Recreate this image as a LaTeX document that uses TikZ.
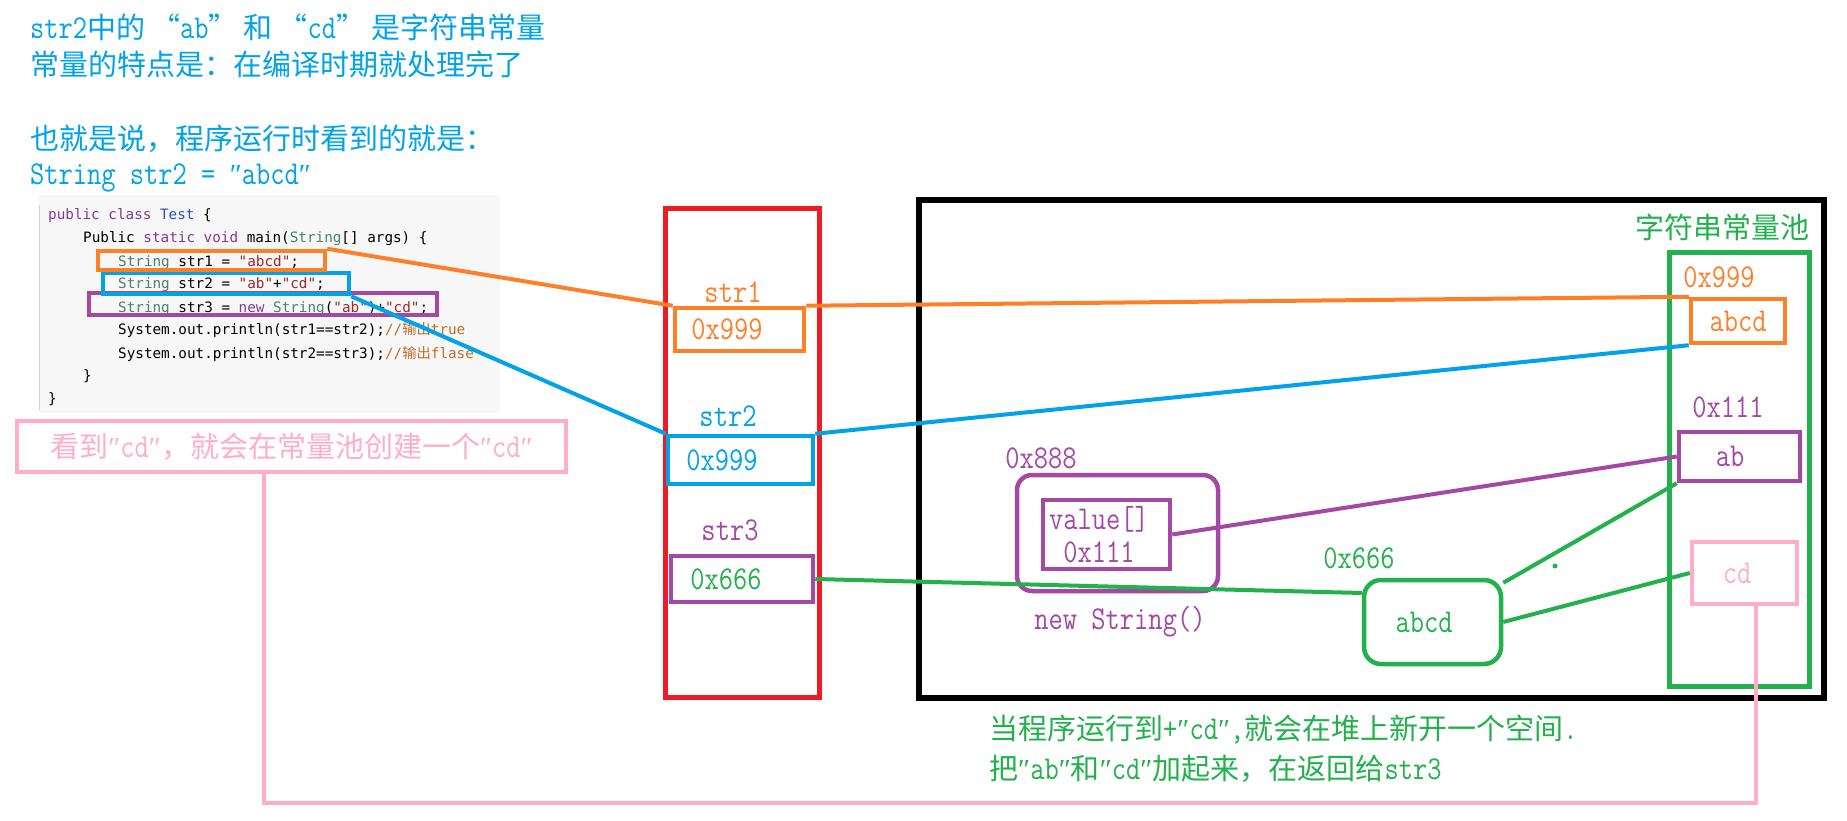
\documentclass[tikz,border=0pt]{standalone}
\usepackage{fontspec}
\setmainfont{Latin Modern Mono}[Scale=1.15, FakeStretch=0.83]
\newfontfamily\cjk{Noto Sans CJK SC}
\newfontfamily\primefont{Liberation Serif}
\newfontfamily\codefont{DejaVu Sans Mono}
\usepackage{xcolor}
\definecolor{skyblue}{RGB}{0,162,232}
\definecolor{tangerine}{RGB}{255,127,39}
\definecolor{plum}{RGB}{163,73,164}
\definecolor{leaf}{RGB}{34,177,76}
\definecolor{brick}{RGB}{237,28,36}
\definecolor{blush}{RGB}{255,174,201}
\definecolor{codebg}{RGB}{247,247,247}
\definecolor{codekw}{RGB}{127,60,150}
\definecolor{codecls}{RGB}{40,80,190}
\definecolor{codetype}{RGB}{70,130,110}
\definecolor{codestr}{RGB}{160,40,40}
\definecolor{codecmt}{RGB}{190,110,40}
\newcommand{\zh}[1]{{\cjk #1}}
\newcommand{\dq}{{\primefont ″}}
\tikzset{%
    cell/.style={draw=#1, line width=4.5pt, inner sep=0pt},
    frame/.style={draw=#1, line width=5pt, inner sep=0pt},
    wire/.style={draw=#1, line width=4pt},
    txt/.style={anchor=base west, inner sep=0pt, text=#1},
    tag/.style={inner sep=0pt, text=#1},
    codeln/.style={anchor=base west, inner sep=0pt, font=\codefont\fontsize{14.3}{16}\selectfont}
}

\begin{document}
\begin{tikzpicture}[x=1pt,y=-1pt,font=\fontsize{29}{33}\selectfont]
    \useasboundingbox[fill=white] (0,0) rectangle (1847,821);
%-----------------------------------------------
    \node[txt=skyblue] (intro1) at (30,39) {str2\zh{中的}\hspace{6pt}\zh{“}ab\zh{”}\hspace{6pt}\zh{和}\hspace{6pt}\zh{“}cd\zh{”}\hspace{6pt}\zh{是字符串常量}};
    \node[txt=skyblue] (intro2) at (30,76) {\zh{常量的特点是：在编译时期就处理完了}};
    \node[txt=skyblue] (intro3) at (30,150) {\zh{也就是说，程序运行时看到的就是：}};
    \node[txt=skyblue] (intro4) at (30,185) {String str2 = \dq abcd\dq};
%-----------------------------------------------
    \fill[codebg] (39,195) rectangle (500,413);
    \draw[black!18, line width=1pt] (39,205) -- (39,410);
    \node[codeln] (code1) at (48,219) {\color{codekw}public class \color{codecls}Test \color{black}\{};
    \node[codeln] (code2) at (83,242) {Public \color{codekw}static void \color{black}main(\color{codetype}String\color{black}[] args) \{};
    \node[codeln] (code3) at (118,266) {\color{codetype}String \color{black}str1 = \color{codestr}"abcd"\color{black};};
    \node[codeln] (code4) at (118,288) {\color{codetype}String \color{black}str2 = \color{codestr}"ab"\color{black}+\color{codestr}"cd"\color{black};};
    \node[codeln] (code5) at (118,312) {\color{codetype}String \color{black}str3 = \color{codekw}new \color{codetype}String\color{black}(\color{codestr}"ab"\color{black})+\color{codestr}"cd"\color{black};};
    \node[codeln] (code6) at (118,334) {System.out.println(str1==str2);\color{codecmt}//{\cjk 输出}true};
    \node[codeln] (code7) at (118,358) {System.out.println(str2==str3);\color{codecmt}//{\cjk 输出}flase};
    \node[codeln] (code8) at (83,380) {\}};
    \node[codeln] (code9) at (48,403) {\}};
    \node[cell=plum, minimum width=348pt, minimum height=22pt] (c3) at (263,304) {};
    \node[cell=skyblue, minimum width=246pt, minimum height=21pt] (c2) at (226,283.5) {};
    \node[cell=tangerine, minimum width=227pt, minimum height=19pt] (c1) at (211.5,260.5) {};
%-----------------------------------------------
    \node[cell=blush, text=blush, minimum width=549pt, minimum height=51pt] (note) at (291.5,446.5)
        {\zh{看到}\dq cd\dq\zh{，就会在常量池创建一个}\dq cd\dq};
%-----------------------------------------------
    \node[frame=brick, minimum width=154pt, minimum height=489pt] (stack) at (742.5,453) {};
    \node[tag=tangerine] (n1) at (733,292) {str1};
    \node[cell=tangerine, text=tangerine, minimum width=129pt, minimum height=43pt] (s1) at (739.5,329.5) {0x999\hspace*{25pt}};
    \node[tag=skyblue] (n2) at (728,416) {str2};
    \node[cell=skyblue, text=skyblue, minimum width=145pt, minimum height=48pt] (s2) at (740.5,460) {0x999\hspace*{37pt}};
    \node[tag=plum] (n3) at (730,530) {str3};
    \node[cell=plum, text=leaf, minimum width=142pt, minimum height=46pt] (s3) at (742,579) {0x666\hspace*{32pt}};
%-----------------------------------------------
    \node[draw, line width=6pt, inner sep=0pt, minimum width=905pt, minimum height=498pt] (heap) at (1371.5,449) {};
    \node[tag=leaf] (pooltitle) at (1722,227) {\zh{字符串常量池}};
    \node[frame=leaf, minimum width=140pt, minimum height=434pt] (pool) at (1739.5,469.5) {};
    \node[tag=tangerine] (a1) at (1719,277) {0x999};
    \node[cell=tangerine, text=tangerine, minimum width=94pt, minimum height=44pt] (p1) at (1738,321) {abcd};
    \node[tag=plum] (a2) at (1728,407) {0x111};
    \node[cell=plum, text=plum, minimum width=121pt, minimum height=49pt] (p2) at (1739.5,456.5) {ab\hspace*{19pt}};
    \node[cell=blush, text=blush, minimum width=105pt, minimum height=62pt] (p3) at (1744.5,573) {cd\hspace*{15pt}};
%-----------------------------------------------
    \node[tag=plum] (a3) at (1041,458) {0x888};
    \node[cell=plum, rounded corners=15pt, minimum width=201pt, minimum height=116pt] (obj) at (1117.5,533) {};
    \node[cell=plum, text=plum, align=center, minimum width=127pt, minimum height=69pt] (val) at (1106.5,534.5)
        {value[]\hspace*{15pt}\\0x111\hspace*{15pt}};
    \node[tag=plum] (ctor) at (1120,622) {new String()};
    \node[tag=leaf] (a4) at (1359,558) {0x666};
    \node[cell=leaf, text=leaf, rounded corners=17pt, minimum width=137pt, minimum height=84pt] (h2) at (1432.5,622) {abcd\hspace*{17pt}};
    \fill[leaf] (1555,566) circle (2.5pt);
%-----------------------------------------------
    \node[txt=leaf] (remark1) at (989,739) {\zh{当程序运行到}+\dq cd\dq,\zh{就会在堆上新开一个空间}.};
    \node[txt=leaf] (remark2) at (989,779) {\zh{把}\dq ab\dq\zh{和}\dq cd\dq\zh{加起来，在返回给}str3};
%-----------------------------------------------
    \draw[wire=tangerine] (c1.north east) -- (s1.north west);
    \draw[wire=tangerine] (s1.north east) -- (p1.north west);
    \draw[wire=skyblue] (c2.south east) -- (s2.north west);
    \draw[wire=skyblue] (s2.north east) -- (p1.south west);
    \draw[wire=plum] (val.east) -- (p2.west);
    \draw[wire=leaf] (s3.east) -- ([yshift=29pt]h2.west);
    \draw[wire=leaf] (h2.29) -- (p2.south west);
    \draw[wire=leaf] (h2.east) -- (p3.west);
    \coordinate (turn) at (264,803);
    \coordinate (dock) at ([xshift=11.5pt]p3.south);
    \draw[wire=blush, line width=4.5pt] (note.south -| turn) -- (turn) -- (turn -| dock) -- (dock);
\end{tikzpicture}
\end{document}
